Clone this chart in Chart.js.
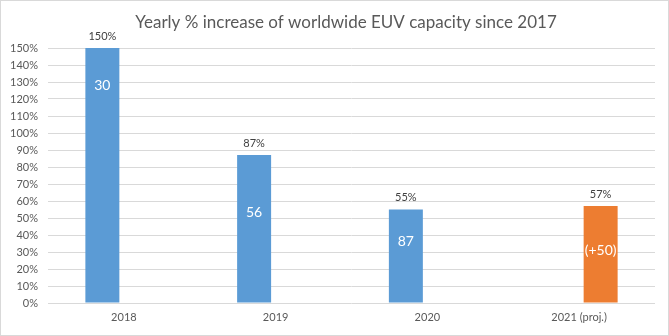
<!DOCTYPE html>
<html>
<head>
<meta charset="utf-8">
<script src="https://cdn.jsdelivr.net/npm/chart.js@4.4.1/dist/chart.umd.min.js"></script>
<style>
  html, body { margin: 0; padding: 0; background: #ffffff; }
  #wrap { width: 669px; height: 336px; box-sizing: border-box; border: 1px solid #d9d9d9; position: relative; }
  canvas { display: block; }
</style>
</head>
<body>
<div id="wrap"><canvas id="c" width="667" height="334"></canvas></div>
<script>
const titleText = "Yearly % increase of worldwide EUV capacity since 2017";
const categories = ["2018", "2019", "2020", "2021 (proj.)"];
const actualIncrease = [150, 87, 55, null];
const projectedIncrease = [null, null, null, 57];
const unitsAdded = ["30", "56", "87", "(+50)"];
const yTicks = [0, 10, 20, 30, 40, 50, 60, 70, 80, 90, 100, 110, 120, 130, 140, 150];

const FONT = "Lato, 'Open Sans', 'Liberation Sans', sans-serif";

// where (in axis units) the in-bar labels sit, as in the reference
const innerLabelAt = [128, 53.5, 36, 31];

const labelPlugin = {
  id: 'labels',
  afterDatasetsDraw(chart) {
    const ctx = chart.ctx;
    const y = chart.scales.y;
    ctx.save();
    ctx.textAlign = 'center';
    ctx.textBaseline = 'middle';
    chart.data.datasets.forEach((ds, di) => {
      const meta = chart.getDatasetMeta(di);
      meta.data.forEach((bar, i) => {
        const v = ds.data[i];
        if (v === null || v === undefined) return;
        ctx.fillStyle = '#404040';
        ctx.font = "11px " + FONT;
        ctx.fillText(v + '%', bar.x, bar.y - 12);
        ctx.fillStyle = '#ffffff';
        ctx.font = "14px " + FONT;
        ctx.fillText(unitsAdded[i], bar.x, y.getPixelForValue(innerLabelAt[i]));
      });
    });
    ctx.restore();
  }
};

const titlePlugin = {
  id: 'ttl',
  afterDraw(chart) {
    const ctx = chart.ctx;
    ctx.save();
    ctx.fillStyle = '#595959';
    ctx.font = "17px " + FONT;
    ctx.textAlign = 'center';
    ctx.textBaseline = 'alphabetic';
    ctx.fillText(titleText, 345, 27);
    ctx.restore();
  }
};

new Chart(document.getElementById('c'), {
  type: 'bar',
  data: {
    labels: categories,
    datasets: [
      { label: 'Actual', data: actualIncrease, backgroundColor: '#5B9BD5', categoryPercentage: 0.567, barPercentage: 0.79 },
      { label: 'Projected', data: projectedIncrease, backgroundColor: '#ED7D31', categoryPercentage: 0.567, barPercentage: 0.79 }
    ]
  },
  options: {
    responsive: false,
    animation: false,
    layout: { padding: { top: 47, right: 13, left: 0, bottom: 0 } },
    plugins: {
      legend: { display: false },
      title: { display: false },
      tooltip: { enabled: false }
    },
    scales: {
      x: {
        grid: { display: false, drawTicks: false },
        border: { display: false },
        ticks: { color: '#595959', font: { family: FONT, size: 11 }, padding: 8 },
        afterFit(scale) { scale.height = 32; }
      },
      y: {
        min: 0, max: 150,
        afterBuildTicks(scale) { scale.ticks = yTicks.map(v => ({ value: v })); },
        grid: { color: '#d9d9d9', drawTicks: false, lineWidth: 1 },
        border: { display: false },
        ticks: { color: '#595959', font: { family: FONT, size: 11 }, padding: 10, callback: v => v + '%' },
        afterFit(scale) { scale.width = 47; }
      }
    }
  },
  plugins: [labelPlugin, titlePlugin]
});
</script>
</body>
</html>
